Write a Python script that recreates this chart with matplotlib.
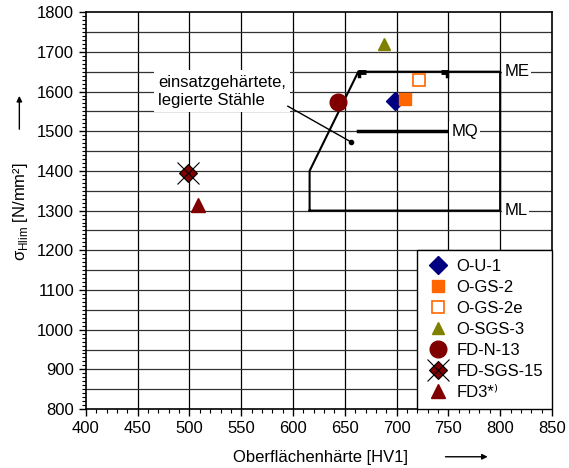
import numpy as np
import matplotlib.pyplot as plt
from matplotlib.ticker import MultipleLocator

plt.rcParams['font.family'] = ['Liberation Sans', 'DejaVu Sans']
plt.rcParams['font.size'] = 12
plt.rcParams['mathtext.fontset'] = 'custom'
plt.rcParams['mathtext.rm'] = 'Liberation Sans'

# data points (HV1, sigma_Hlim)
names = ["O-U-1", "O-GS-2", "O-GS-2e", "O-SGS-3", "FD-N-13", "FD-SGS-15", "FD3*⁾"]
hv = [698, 708, 722, 688, 643, 499, 508]
sig = [1575, 1580, 1630, 1720, 1573, 1395, 1315]

# region for case hardened alloy steels
region_x = [616, 616, 663, 800, 800, 616]
region_y = [1300, 1400, 1650, 1650, 1300, 1300]
mq_x = [663, 750]
mq_y = [1500, 1500]

fig = plt.figure(figsize=(5.69, 4.68), dpi=100)
ax = fig.add_axes([0.151, 0.126, 0.819, 0.848])

ax.set_xlim(400, 850)
ax.set_ylim(800, 1800)
ax.xaxis.set_major_locator(MultipleLocator(50))
ax.xaxis.set_minor_locator(MultipleLocator(10))
ax.yaxis.set_major_locator(MultipleLocator(100))
ax.yaxis.set_minor_locator(MultipleLocator(10))
for gx in np.arange(450, 850, 50):
    ax.axvline(gx, color='black', lw=0.9, zorder=0)
for gy in np.arange(850, 1800, 50):
    ax.axhline(gy, color='#333333', lw=0.9, zorder=0)
ax.tick_params(which='major', length=5, width=1, direction='out')
ax.tick_params(which='minor', length=3, width=0.8, direction='out')
for s in ax.spines.values():
    s.set_linewidth(1.2)

# region outline
ax.plot(region_x, region_y, color='black', lw=1.5, zorder=2)
ax.plot([663, 670], [1650, 1650], color='black', lw=3.5, zorder=2, solid_capstyle='butt')
ax.plot([664, 664], [1650, 1640], color='black', lw=2.5, zorder=2)
ax.plot([743, 750], [1650, 1650], color='black', lw=3.5, zorder=2, solid_capstyle='butt')
ax.plot([749, 749], [1650, 1640], color='black', lw=2.5, zorder=2)
ax.plot(mq_x, mq_y, color='black', lw=2.5, zorder=2)

wbox = dict(facecolor='white', edgecolor='none', pad=1.5)
ax.text(804, 1650, "ME", va='center', ha='left', bbox=wbox, zorder=3)
ax.text(753, 1500, "MQ", va='center', ha='left', bbox=wbox, zorder=3)
ax.text(804, 1300, "ML", va='center', ha='left', bbox=wbox, zorder=3)

ax.text(470, 1601, "einsatzgehärtete,\nlegierte Stähle", va='center', ha='left',
        linespacing=1.25, bbox=dict(facecolor='white', edgecolor='none', pad=3), zorder=3)
ax.plot([595, 656], [1563, 1473], color='black', lw=1, zorder=3)
ax.plot(656, 1473, 'o', color='black', ms=3, zorder=3)

# markers
h = []
h.append(ax.plot(hv[0], sig[0], 'D', color='#000080', ms=9.5, ls='none', zorder=4)[0])
h.append(ax.plot(hv[1], sig[1], 's', color='#FF6600', ms=9, ls='none', zorder=4)[0])
h.append(ax.plot(hv[2], sig[2], 's', mfc='white', mec='#FF6600', mew=1.2, ms=9, ls='none', zorder=4)[0])
h.append(ax.plot(hv[3], sig[3], '^', color='#808000', ms=9, ls='none', zorder=4)[0])
h.append(ax.plot(hv[4], sig[4], 'o', color='#800000', ms=12, ls='none', zorder=4)[0])
d = ax.plot(hv[5], sig[5], 'D', mfc='#800000', mec='black', mew=0.8, ms=9, ls='none', zorder=4)[0]
x = ax.plot(hv[5], sig[5], 'x', color='black', mew=0.8, ms=16, ls='none', zorder=5)[0]
h.append((d, x))
h.append(ax.plot(hv[6], sig[6], '^', color='#800000', ms=10.5, ls='none', zorder=4)[0])

leg = ax.legend(h, names, loc='lower right', frameon=True, fancybox=False,
                borderaxespad=0, handletextpad=0.4, labelspacing=0.36,
                borderpad=0.55, fontsize=12, handlelength=1.4)
leg.get_frame().set_edgecolor('black')
leg.get_frame().set_linewidth(1)
leg.get_frame().set_alpha(1)

fig.text(0.563, 0.006, "Oberflächenhärte [HV1]", ha='center', va='bottom', fontsize=12)
ax.annotate("", xy=(0.862, 0.024), xytext=(0.778, 0.024), xycoords='figure fraction',
            arrowprops=dict(arrowstyle='-|>', color='black', lw=1, mutation_scale=8))

fig.text(0.036, 0.547, r"σ$_{\mathrm{Hlim}}$ [N/mm²]", rotation=90, ha='center', va='center', fontsize=12)
ax.annotate("", xy=(0.034, 0.801), xytext=(0.034, 0.718), xycoords='figure fraction',
            arrowprops=dict(arrowstyle='-|>', color='black', lw=1, mutation_scale=8))

fig.savefig("out.png", dpi=100)
